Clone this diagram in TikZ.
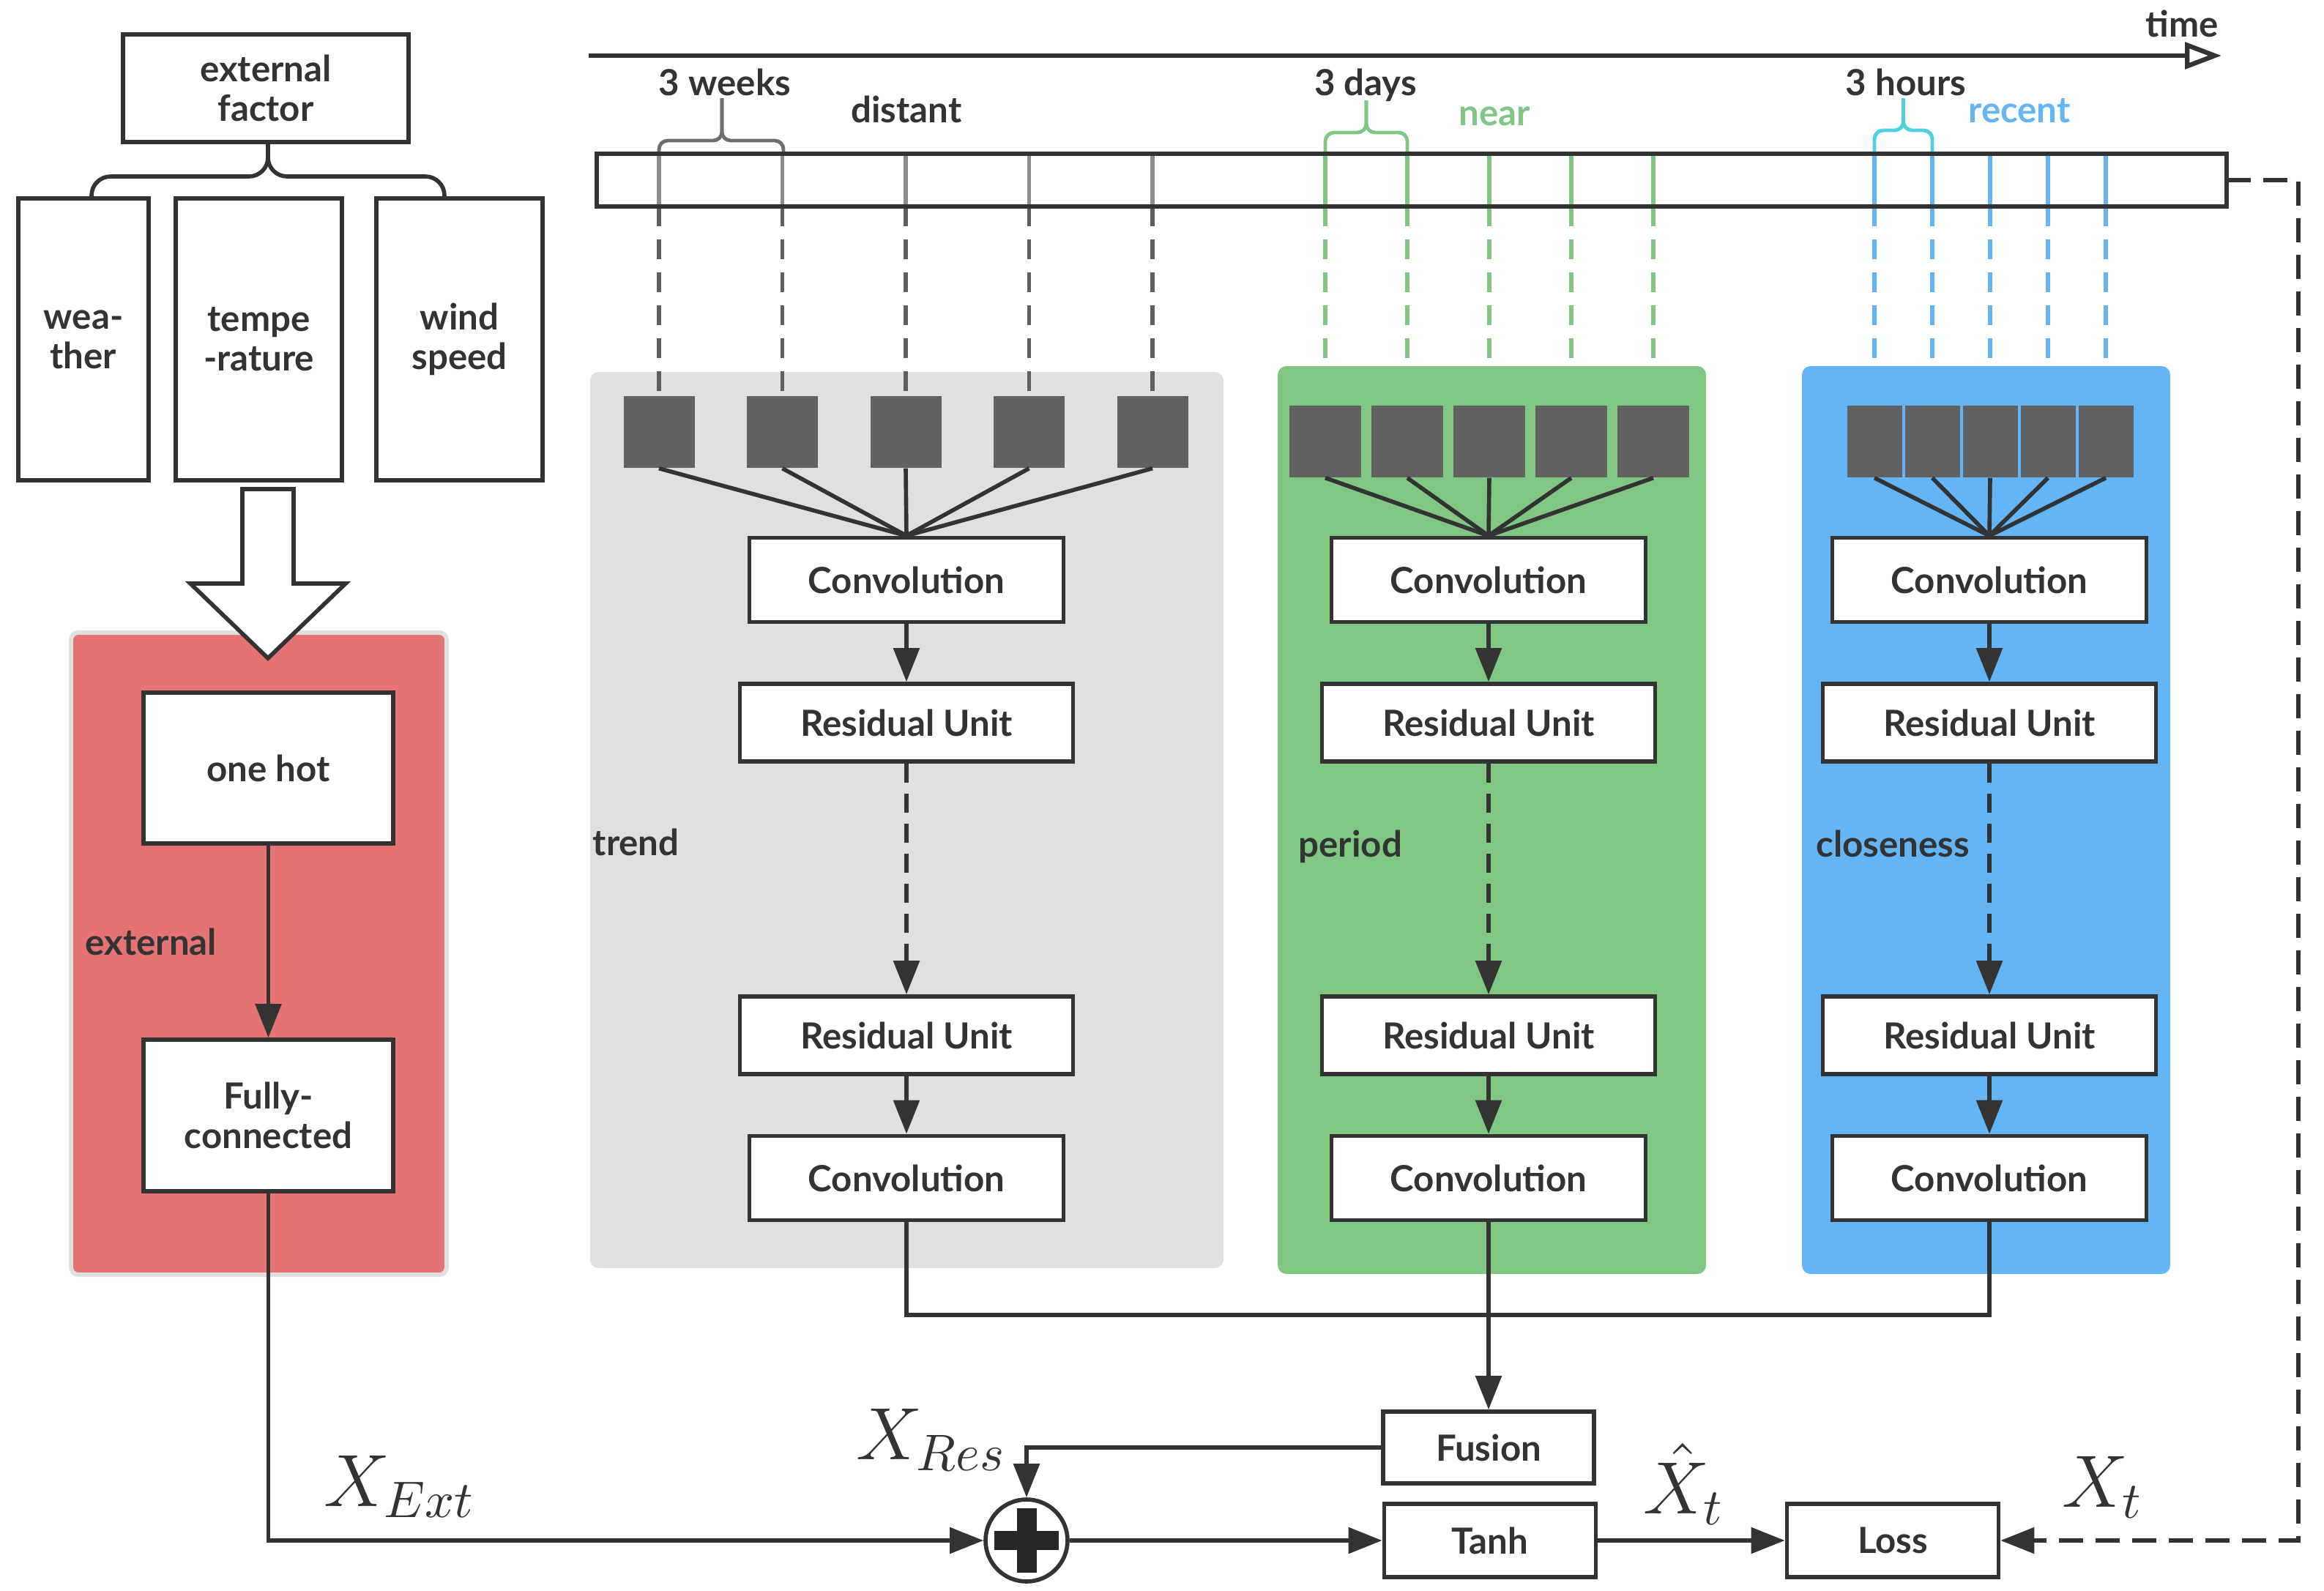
\documentclass[tikz,border=0pt]{standalone}
\usepackage{fontspec}
\setmainfont{Lato}
\usetikzlibrary{arrows.meta}
\definecolor{dark}{HTML}{333333}
\definecolor{sqgray}{HTML}{616161}
\definecolor{panelgray}{HTML}{E0E0E0}
\definecolor{pgreen}{HTML}{81C784}
\definecolor{pblue}{HTML}{64B5F6}
\definecolor{pred}{HTML}{E57373}
\definecolor{tickgray}{HTML}{8C8C8C}
\definecolor{dashgray}{HTML}{5F5F5F}
\definecolor{bracegray}{HTML}{6E6E6E}
\definecolor{bracecyan}{HTML}{4DD0E1}

\begin{document}
\begin{tikzpicture}[y=-1cm,
    font=\bfseries\fontsize{14}{15.3}\selectfont, text=dark,
    box/.style={draw=dark, line width=1.6pt, fill=white, align=center, inner sep=0pt},
    conv/.style={box, minimum width=4.29cm, minimum height=1.15cm},
    res/.style={box, minimum width=4.55cm, minimum height=1.06cm},
    sq/.style={fill=sqgray, inner sep=0pt, minimum height=0.98cm},
    lbl/.style={inner sep=0pt},
    line/.style={draw=dark, line width=1.6pt},
    flow/.style={line, -{Triangle[length=0.46cm,width=0.35cm]}},
    brace/.style={line width=1.4pt, rounded corners=0.12cm},
    tick/.style={line width=1.5pt},
    broken/.style={dash pattern=on 0.27cm off 0.18cm},
    math/.style={scale=2, inner sep=0pt, font=\fontsize{14}{16}\selectfont}]
    \useasboundingbox (0,0) rectangle (31.74,21.73);
    % panels
    \fill[panelgray, rounded corners=0.12cm] (8.06,5.08) rectangle (16.71,17.32);
    \fill[pgreen, rounded corners=0.12cm] (17.45,5.00) rectangle (23.30,17.40);
    \fill[pblue, rounded corners=0.12cm] (24.61,5.00) rectangle (29.64,17.40);
    \filldraw[fill=pred, draw=black!12, line width=1.7pt, rounded corners=0.1cm]
      (0.97,8.64) rectangle (6.10,17.41);
    % external factors
    \node[box, minimum width=3.90cm, minimum height=1.47cm] (ext) at (3.63,1.205) {external\\factor};
    \node[box, minimum width=1.78cm, minimum height=3.85cm] (weather) at (1.14,4.635) {wea-\\ther};
    \node[box, minimum width=2.27cm, minimum height=3.85cm] (temp) at (3.535,4.635) {tempe\\-rature};
    \node[box, minimum width=2.27cm, minimum height=3.85cm] (wind) at (6.275,4.635) {wind\\speed};
    \draw[line, rounded corners=0.26cm] (1.25,2.72) -- (1.25,2.41) -- (3.66,2.41) -- (3.66,1.94);
    \draw[line, rounded corners=0.26cm] (6.07,2.72) -- (6.07,2.41) -- (3.66,2.41) -- (3.66,1.94);
    \filldraw[fill=white, draw=dark, line width=1.6pt] (3.31,6.68) -- (4.01,6.68) -- (4.01,7.97)
      -- (4.72,7.97) -- (3.66,8.99) -- (2.60,7.97) -- (3.31,7.97) -- cycle;
    \node[box, minimum width=3.41cm, minimum height=2.06cm] (onehot) at (3.665,10.49) {one hot};
    \node[box, minimum width=3.41cm, minimum height=2.07cm] (fc) at (3.665,15.235) {Fully-\\connected};
    \draw[flow] (onehot) -- (fc);
    \node[lbl, anchor=base west] (extlbl) at (1.16,13.04) {external};
    % time axis
    \coordinate (t0) at (8.04,0.76);
    \coordinate (t1) at (30.34,0.76);
    \draw[line, line width=1.8pt, -{Triangle[open,length=0.5cm,width=0.36cm,fill=white]}] (t0) -- (t1);
    \node[lbl, anchor=base] (time) at (29.80,0.50) {time};
    \node[fill=white, minimum width=22.24cm, minimum height=0.70cm, inner sep=0pt] (tl) at (19.28,2.46) {};
    \node[lbl, anchor=base] (weeks) at (9.90,1.30) {3 weeks};
    \node[lbl, anchor=base] (distant) at (12.38,1.67) {distant};
    \node[lbl, anchor=base] (days) at (18.65,1.30) {3 days};
    \node[lbl, anchor=base, text=pgreen] (near) at (20.41,1.71) {near};
    \node[lbl, anchor=base] (hours) at (26.03,1.30) {3 hours};
    \node[lbl, anchor=base, text=pblue] (recent) at (27.58,1.67) {recent};
    \draw[brace, bracegray] (9.00,2.07) -- (9.00,1.92) -- (9.86,1.92) -- (9.86,1.34);
    \draw[brace, bracegray] (10.70,2.07) -- (10.70,1.92) -- (9.86,1.92) -- (9.86,1.34);
    \draw[brace, pgreen] (18.10,2.07) -- (18.10,1.81) -- (18.66,1.81) -- (18.66,1.37);
    \draw[brace, pgreen] (19.22,2.07) -- (19.22,1.81) -- (18.66,1.81) -- (18.66,1.37);
    \draw[brace, bracecyan] (25.60,2.07) -- (25.60,1.78) -- (25.995,1.78) -- (25.995,1.34);
    \draw[brace, bracecyan] (26.39,2.07) -- (26.39,1.78) -- (25.995,1.78) -- (25.995,1.34);
    % trend
    \node[conv] (tconv1) at (12.38,7.92) {Convolution};
    \node[res] (tres1) at (12.38,9.87) {Residual Unit};
    \node[res] (tres2) at (12.38,14.14) {Residual Unit};
    \node[conv] (tconv2) at (12.38,16.09) {Convolution};
    \foreach \i in {1,...,5} {
      \node[sq, minimum width=0.97cm] (t\i) at ({9.00+1.685*(\i-1)},5.90) {};
      \draw[tick, tickgray] (t\i.north |- tl.north) -- (t\i.north |- tl.south);
      \draw[tick, dashgray, broken] (t\i.north |- tl.south) -- (t\i.north);
      \draw[line] (t\i.south) -- (tconv1.north);
    }
    \draw[flow] (tconv1) -- (tres1);
    \draw[flow, dash pattern=on 0.26cm off 0.15cm] (tres1) -- (tres2);
    \draw[flow] (tres2) -- (tconv2);
    \node[lbl, anchor=base west] (trend) at (8.09,11.68) {trend};
    % period
    \node[conv] (pconv1) at (20.33,7.92) {Convolution};
    \node[res] (pres1) at (20.33,9.87) {Residual Unit};
    \node[res] (pres2) at (20.33,14.14) {Residual Unit};
    \node[conv] (pconv2) at (20.33,16.09) {Convolution};
    \foreach \i in {1,...,5} {
      \node[sq, minimum width=0.98cm] (p\i) at ({18.10+1.12*(\i-1)},6.03) {};
      \draw[tick, pgreen] (p\i.north |- tl.north) -- (p\i.north |- tl.south);
      \draw[tick, pgreen, broken] (p\i.north |- tl.south) -- (p\i.north);
      \draw[line] (p\i.south) -- (pconv1.north);
    }
    \draw[flow] (pconv1) -- (pres1);
    \draw[flow, dash pattern=on 0.26cm off 0.15cm] (pres1) -- (pres2);
    \draw[flow] (pres2) -- (pconv2);
    \node[lbl, anchor=base west] (period) at (17.73,11.70) {period};
    % closeness
    \node[conv] (cconv1) at (27.17,7.92) {Convolution};
    \node[res] (cres1) at (27.17,9.87) {Residual Unit};
    \node[res] (cres2) at (27.17,14.14) {Residual Unit};
    \node[conv] (cconv2) at (27.17,16.09) {Convolution};
    \foreach \i in {1,...,5} {
      \node[sq, minimum width=0.75cm] (c\i) at ({25.60+0.79*(\i-1)},6.03) {};
      \draw[tick, pblue] (c\i.north |- tl.north) -- (c\i.north |- tl.south);
      \draw[tick, pblue, broken] (c\i.north |- tl.south) -- (c\i.north);
      \draw[line] (c\i.south) -- (cconv1.north);
    }
    \draw[flow] (cconv1) -- (cres1);
    \draw[flow, dash pattern=on 0.26cm off 0.15cm] (cres1) -- (cres2);
    \draw[flow] (cres2) -- (cconv2);
    \node[lbl, anchor=base west] (close) at (24.80,11.70) {closeness};
    \draw[line] (tl.north west) rectangle (tl.south east);
    % fusion and output
    \node[box, minimum width=2.88cm, minimum height=0.98cm] (fusion) at (20.33,19.77) {Fusion};
    \node[box, minimum width=2.89cm, minimum height=1.00cm] (tanh) at (20.35,21.04) {Tanh};
    \node[box, minimum width=2.89cm, minimum height=1.00cm] (loss) at (25.85,21.04) {Loss};
    \node[circle, draw=dark, line width=1.6pt, fill=white, minimum size=1.12cm] (plus) at (14.02,21.04) {};
    \draw[line width=0.26cm, black!85] ([xshift=-0.44cm]plus.center) -- ([xshift=0.44cm]plus.center);
    \draw[line width=0.27cm, black!85] ([yshift=-0.44cm]plus.center) -- ([yshift=0.44cm]plus.center);
    \coordinate (merge) at (20.33,17.96);
    \draw[line] (tconv2.south) |- (merge) -| (cconv2.south);
    \draw[flow] (pconv2.south) -- (fusion.north);
    \draw[flow] (fc.south) |- (plus.west);
    \draw[flow] (fusion.west) -| (plus.north);
    \draw[flow] (plus) -- (tanh);
    \draw[flow] (tanh) -- (loss);
    \coordinate (back) at (31.39,2.46);
    \draw[flow, dash pattern=on 0.33cm off 0.17cm] (tl.east) -- (back) |- (loss.east);
    \node[math] (xext) at (5.46,20.30) {$X_{Ext}$};
    \node[math] (xres) at (12.72,19.66) {$X_{Res}$};
    \node[math] (xhat) at (23.00,20.27) {$\hat{X}_t$};
    \node[math] (xt) at (28.72,20.31) {$X_t$};
  \end{tikzpicture}
\end{document}
